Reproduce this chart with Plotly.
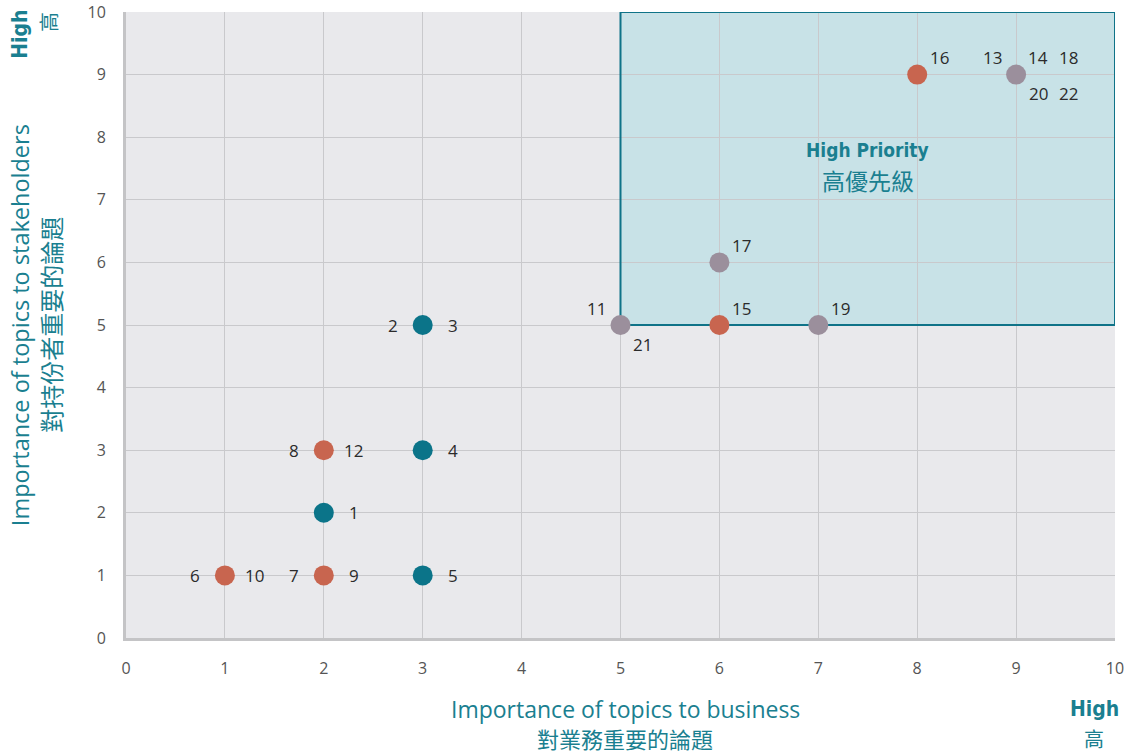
import plotly.graph_objects as go

# ---- data ----
teal_x = [3, 3, 2, 3]
teal_y = [5, 3, 2, 1]
orange_x = [2, 1, 2, 6, 8]
orange_y = [3, 1, 1, 5, 9]
gray_x = [9, 6, 5, 7]
gray_y = [9, 6, 5, 5]

label_text = ["2", "3", "4", "1", "5", "8", "12", "6", "10", "7", "9", "15", "16",
              "13", "14", "18", "20", "22", "17", "11", "21", "19"]
label_x = [3, 3, 3, 2, 3, 2, 2, 1, 1, 2, 2, 6, 8, 9, 9, 9, 9, 9, 6, 5, 5, 7]
label_y = [5, 5, 3, 2, 1, 3, 3, 1, 1, 1, 1, 5, 9, 9, 9, 9, 9, 9, 6, 5, 5, 5]
label_pos = ["L", "R", "R", "R", "R", "L", "R", "L", "R", "L", "R", "UR", "UR",
             "UL", "UR", "UR2", "DR", "DR2", "UR", "UL", "DR", "UR"]

x_ticks = list(range(0, 11))
y_ticks = list(range(0, 11))
priority_x = [5, 10]
priority_y = [5, 10]

TEAL = "#0b7489"
ORANGE = "#c8654f"
GRAY = "#9b8f9c"
TITLE = "#1a7f90"
COND = "DejaVu Sans Condensed, Liberation Sans Narrow, sans-serif"

offsets = {"L": (-30, 0), "R": (30, 0), "UR": (22, -17), "UL": (-24, -17),
           "UR2": (52, -17), "DR": (22, 19), "DR2": (52, 19)}

fig = go.Figure()

fig.add_shape(type="rect", x0=priority_x[0], x1=priority_x[1], y0=priority_y[0], y1=priority_y[1],
              xref="x", yref="y", fillcolor="#c8e2e7", line=dict(width=0),
              layer="below")
fig.add_shape(type="rect", x0=priority_x[0], x1=priority_x[1], y0=priority_y[0], y1=priority_y[1],
              xref="x", yref="y", fillcolor="rgba(0,0,0,0)", line=dict(color="#0f7388", width=2),
              layer="between")

for xs, ys, col in [(teal_x, teal_y, TEAL), (orange_x, orange_y, ORANGE), (gray_x, gray_y, GRAY)]:
    fig.add_trace(go.Scatter(x=xs, y=ys, mode="markers",
                             marker=dict(color=col, size=20, line=dict(width=0)),
                             showlegend=False, hoverinfo="skip", cliponaxis=False))

annotations = []
for t, x, y, p in zip(label_text, label_x, label_y, label_pos):
    dx, dy = offsets[p]
    annotations.append(dict(x=x, y=y, xref="x", yref="y", text=t, showarrow=False,
                            xshift=dx, yshift=-dy,
                            font=dict(family="Open Sans", size=17, color="#2b2b2b")))

annotations += [
    dict(x=7.5, y=7.8, xref="x", yref="y", text="<b>High Priority</b>", showarrow=False,
         font=dict(family=COND, size=19, color=TITLE)),
    dict(x=7.5, y=7.32, xref="x", yref="y", text="高優先級", showarrow=False,
         font=dict(family="Noto Sans CJK TC", size=23, color=TITLE)),
    dict(x=0.505, y=-0.114, xref="paper", yref="paper", text="Importance of topics to business",
         showarrow=False, xanchor="center", yanchor="middle",
         font=dict(family="Open Sans", size=23, color=TITLE)),
    dict(x=0.505, y=-0.16, xref="paper", yref="paper", text="對業務重要的論題",
         showarrow=False, xanchor="center", yanchor="middle",
         font=dict(family="Noto Sans CJK TC", size=22, color=TITLE)),
    dict(x=-0.107, y=0.5, xref="paper", yref="paper", text="Importance of topics to stakeholders",
         showarrow=False, textangle=-90, xanchor="center", yanchor="middle",
         font=dict(family="Open Sans", size=23.5, color=TITLE)),
    dict(x=-0.077, y=0.5, xref="paper", yref="paper", text="對持份者重要的論題",
         showarrow=False, textangle=-90, xanchor="center", yanchor="middle",
         font=dict(family="Noto Sans CJK TC", size=24, color=TITLE)),
    dict(x=-0.108, y=0.964, xref="paper", yref="paper", text="<b>High</b>",
         showarrow=False, textangle=-90, xanchor="center", yanchor="middle",
         font=dict(family=COND, size=21, color=TITLE)),
    dict(x=-0.079, y=0.984, xref="paper", yref="paper", text="高",
         showarrow=False, textangle=-90, xanchor="center", yanchor="middle",
         font=dict(family="Noto Sans CJK TC", size=20, color=TITLE)),
    dict(x=0.979, y=-0.114, xref="paper", yref="paper", text="<b>High</b>",
         showarrow=False, xanchor="center", yanchor="middle",
         font=dict(family=COND, size=21, color=TITLE)),
    dict(x=0.979, y=-0.16, xref="paper", yref="paper", text="高",
         showarrow=False, xanchor="center", yanchor="middle",
         font=dict(family="Noto Sans CJK TC", size=20, color=TITLE)),
]

axis_common = dict(showgrid=True, gridcolor="#c9c9cc", gridwidth=1, zeroline=False,
                   showline=True, linecolor="#c4c4c6", linewidth=3,
                   ticks="", tickfont=dict(family="Open Sans", size=16, color="#555555"),
                   fixedrange=True, automargin=False)

fig.update_layout(
    width=1133, height=756,
    margin=dict(l=126, r=18, t=12, b=118, autoexpand=False),
    paper_bgcolor="white", plot_bgcolor="#e9e9ec",
    annotations=annotations,
    xaxis=dict(range=[0, 10], tickvals=x_ticks, ticklabelstandoff=14, **axis_common),
    yaxis=dict(range=[0, 10], tickvals=y_ticks, ticklabelstandoff=14, **axis_common),
)

fig.write_html("out.html", config={"displayModeBar": False},
               post_script="document.body.style.margin='0';document.body.style.overflow='hidden';")
